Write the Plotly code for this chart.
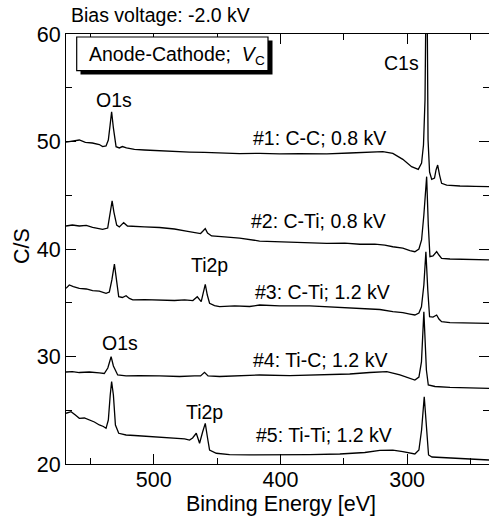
import plotly.graph_objects as go

# ---------------- data ----------------
# Spectrum #1: C-C; 0.8 kV
e1 = [569.2, 562.6, 558.7, 553.9, 548.4, 542.9, 540.3, 537.6, 535.8, 534.4, 533.2, 531.8,
      529.7, 527.1, 524.7, 521.5, 515.2, 507.3, 499.4, 491.5, 482.0, 471.7, 459.9, 448.0,
      432.2, 416.4, 400.6, 384.8, 363.4, 345.3, 329.5, 319.2, 311.3, 303.4, 296.5, 291.2,
      288.6, 287.1, 285.9, 284.6, 283.5, 282.3, 280.6, 278.4, 277.2, 275.9, 274.4, 272.8,
      268.8, 258.3, 246.4, 235.4]
c1 = [49.95, 50.05, 50.14, 49.91, 49.86, 49.72, 49.52, 49.58, 50.14, 51.53, 52.77, 51.26,
      49.52, 49.40, 49.53, 49.40, 49.26, 49.21, 49.16, 49.12, 49.07, 49.02, 48.98, 48.93,
      48.88, 48.90, 48.84, 48.88, 48.84, 48.93, 48.98, 49.05, 48.90, 48.34, 47.66, 47.41,
      48.00, 49.67, 53.86, 70.0, 50.14, 47.16, 46.48, 46.60, 47.35, 47.81, 46.88, 46.11,
      45.95, 45.86, 45.83, 45.80]

# Spectrum #2: C-Ti; 0.8 kV
e2 = [569.2, 564.2, 558.7, 553.2, 548.2, 543.7, 540.3, 536.3, 534.4, 532.8, 531.4, 529.2,
      527.1, 523.7, 520.7, 515.2, 507.3, 495.4, 483.6, 474.3, 467.0, 463.0, 461.1, 459.3,
      457.5, 454.3, 444.1, 432.2, 416.4, 400.6, 390.3, 376.9, 363.4, 349.2, 337.3, 325.5,
      317.6, 311.3, 303.4, 297.8, 293.9, 290.7, 288.6, 286.8, 284.6, 283.3, 282.0, 279.6,
      276.7, 274.9, 272.8, 266.2, 250.4, 235.4]
c2 = [42.14, 42.23, 42.14, 42.19, 42.02, 41.95, 41.83, 41.95, 43.16, 44.47, 43.44, 42.23,
      42.05, 42.45, 42.14, 42.09, 42.05, 42.00, 41.86, 41.67, 41.49, 41.44, 41.67, 41.90,
      41.49, 41.21, 41.12, 41.02, 40.74, 40.68, 40.70, 40.60, 40.53, 40.55, 40.44, 40.45,
      40.37, 40.21, 40.09, 39.86, 39.75, 40.00, 40.84, 43.16, 46.73, 42.23, 39.28, 39.35,
      39.75, 39.44, 39.13, 39.07, 39.02, 38.98]

# Spectrum #3: C-Ti; 1.2 kV
e3 = [569.2, 566.6, 563.4, 558.7, 553.2, 548.2, 542.9, 537.6, 535.0, 533.0, 531.0, 529.4,
      527.6, 524.7, 521.8, 519.2, 516.5, 507.3, 495.4, 483.6, 475.6, 469.1, 465.6, 462.5,
      460.9, 459.3, 457.7, 455.9, 452.0, 448.0, 436.1, 424.3, 416.4, 400.6, 376.9, 357.1,
      337.3, 321.5, 311.3, 303.4, 297.8, 293.9, 290.7, 288.7, 286.8, 285.2, 283.7, 282.3,
      279.6, 276.7, 274.9, 272.8, 266.2, 250.4, 235.4]
c3 = [36.34, 36.65, 36.51, 36.34, 36.28, 36.12, 36.09, 35.88, 36.00, 37.12, 38.60, 36.93,
      35.56, 35.49, 35.66, 35.40, 35.26, 35.30, 35.26, 35.21, 35.26, 35.20, 35.56, 35.10,
      35.91, 36.71, 35.72, 34.95, 34.74, 34.64, 34.70, 34.65, 34.79, 34.70, 34.70, 34.56,
      34.48, 34.37, 34.17, 34.09, 33.95, 33.86, 34.05, 34.63, 36.65, 39.75, 36.19, 33.70,
      33.67, 33.86, 33.49, 33.24, 33.16, 33.12, 33.09]

# Spectrum #4: Ti-C; 1.2 kV
e4 = [569.2, 564.2, 558.7, 550.8, 542.9, 539.0, 536.2, 533.6, 531.8, 528.4, 521.8, 511.3,
      495.4, 479.6, 467.8, 463.0, 459.9, 457.1, 448.0, 432.2, 416.4, 392.7, 369.0, 345.3,
      329.5, 316.0, 305.7, 297.8, 293.9, 290.7, 288.7, 286.8, 284.8, 283.3, 278.0, 266.2,
      250.4, 235.4]
c4 = [28.56, 28.60, 28.51, 28.56, 28.47, 28.42, 28.93, 29.98, 29.12, 28.28, 28.19, 28.23,
      28.19, 28.14, 28.19, 28.19, 28.53, 28.19, 28.14, 28.19, 28.28, 28.23, 28.28, 28.37,
      28.51, 28.60, 28.28, 27.95, 27.81, 28.09, 29.49, 34.17, 28.74, 27.35, 27.21, 27.12,
      27.07, 27.04]

# Spectrum #5: Ti-Ti; 1.2 kV
e5 = [569.2, 565.2, 561.8, 558.7, 554.7, 550.8, 546.8, 542.9, 539.7, 537.6, 535.8, 534.3,
      533.2, 531.8, 530.2, 527.6, 521.8, 515.2, 508.6, 495.4, 482.2, 475.6, 471.7, 469.3,
      466.4, 463.8, 461.4, 459.3, 457.5, 455.9, 450.6, 440.1, 424.3, 400.6, 376.9, 353.1,
      333.4, 321.5, 311.3, 303.4, 297.8, 293.9, 290.7, 288.6, 286.5, 284.8, 283.1, 280.4,
      266.2, 250.4, 235.4]
c5 = [24.72, 24.87, 24.56, 24.25, 24.28, 24.09, 23.91, 23.63, 23.49, 23.32, 24.09, 26.42,
      27.66, 26.42, 23.63, 22.86, 22.70, 22.65, 22.60, 22.54, 22.39, 22.33, 22.23, 22.42,
      22.86, 21.93, 22.98, 23.78, 22.42, 21.30, 21.00, 20.88, 20.84, 20.84, 20.88, 20.93,
      21.07, 21.26, 21.30, 21.16, 21.00, 20.93, 21.30, 23.16, 26.26, 23.16, 20.84, 20.65,
      20.56, 20.47, 20.37]

series_names = ["#1: C-C; 0.8 kV", "#2: C-Ti; 0.8 kV", "#3: C-Ti; 1.2 kV",
                "#4: Ti-C; 1.2 kV", "#5: Ti-Ti; 1.2 kV"]
energies = [e1, e2, e3, e4, e5]
counts = [c1, c2, c3, c4, c5]

x_range = [569.2, 235.4]
y_range = [20, 60]
x_title = "Binding Energy [eV]"
y_title = "C/S"

# ---------------- figure ----------------
FONT = "Arial, Liberation Sans, sans-serif"
W, H = 489, 517
L, R, T, B = 66, 0, 34, 53
pw, ph = W - L - R, H - T - B


def px(xp):
    return (xp - L) / pw


def py(yp):
    return (H - B - yp) / ph


fig = go.Figure()
for e, c, n in zip(energies, counts, series_names):
    fig.add_trace(go.Scatter(x=e, y=c, mode="lines", name=n,
                             line=dict(color="black", width=1.3),
                             showlegend=False))

axis_common = dict(showgrid=False, zeroline=False, showline=True, linecolor="black",
                   linewidth=1, mirror="ticks", ticks="inside", ticklen=10, tickwidth=1,
                   tickcolor="black", tickfont=dict(family=FONT, size=21.5, color="black"))

fig.update_xaxes(range=x_range, dtick=100, tick0=0, ticklabelstandoff=-4,
                 minor=dict(dtick=50, ticks="inside", ticklen=6, tickcolor="black"),
                 **axis_common)
fig.update_yaxes(range=y_range, dtick=10, tick0=0,
                 minor=dict(dtick=5, ticks="inside", ticklen=6, tickcolor="black"),
                 **axis_common)

# Axis titles placed as annotations for exact positioning
title_font = dict(family=FONT, size=21.5, color="black")
fig.add_annotation(text=x_title, xref="paper", yref="paper", x=px(281), y=py(504),
                   xanchor="center", yanchor="middle", showarrow=False, font=title_font)
fig.add_annotation(text=y_title, xref="paper", yref="paper", x=px(22), y=py(246),
                   xanchor="center", yanchor="middle", showarrow=False, font=title_font,
                   textangle=-90)

# Label box with drop shadow
fig.add_shape(type="rect", xref="paper", yref="paper",
              x0=px(80.5), x1=px(272.5), y0=py(74.5), y1=py(40.5),
              fillcolor="black", line=dict(color="black", width=0))
fig.add_shape(type="rect", xref="paper", yref="paper",
              x0=px(76.7), x1=px(268), y0=py(70.7), y1=py(37),
              fillcolor="white", line=dict(color="black", width=1.2))

ann_font = dict(family=FONT, size=19.5, color="black")
annotations = [
    # (text, x_px, y_px, xanchor)
    ("Anode-Cathode;  <i>V</i><sub>C</sub>", 87, 55, "left"),
    ("Bias voltage: -2.0 kV", 69, 15, "left"),
    ("C1s", 421, 63, "right"),
    ("O1s", 113.5, 100, "center"),
    (series_names[0], 388, 138, "right"),
    (series_names[1], 388, 221, "right"),
    ("Ti2p", 209, 265, "center"),
    (series_names[2], 392, 292, "right"),
    ("O1s", 120, 343, "center"),
    (series_names[3], 389, 360, "right"),
    ("Ti2p", 204, 412, "center"),
    (series_names[4], 394, 435, "right"),
]
for text, xp, yp, xa in annotations:
    fig.add_annotation(text=text, xref="paper", yref="paper", x=px(xp), y=py(yp),
                       xanchor=xa, yanchor="middle", showarrow=False, font=ann_font)

fig.update_layout(width=W, height=H, margin=dict(l=L, r=R, t=T, b=B, autoexpand=False),
                  paper_bgcolor="white", plot_bgcolor="white",
                  font=dict(family=FONT, color="black"))

fig.write_html("out.html")
